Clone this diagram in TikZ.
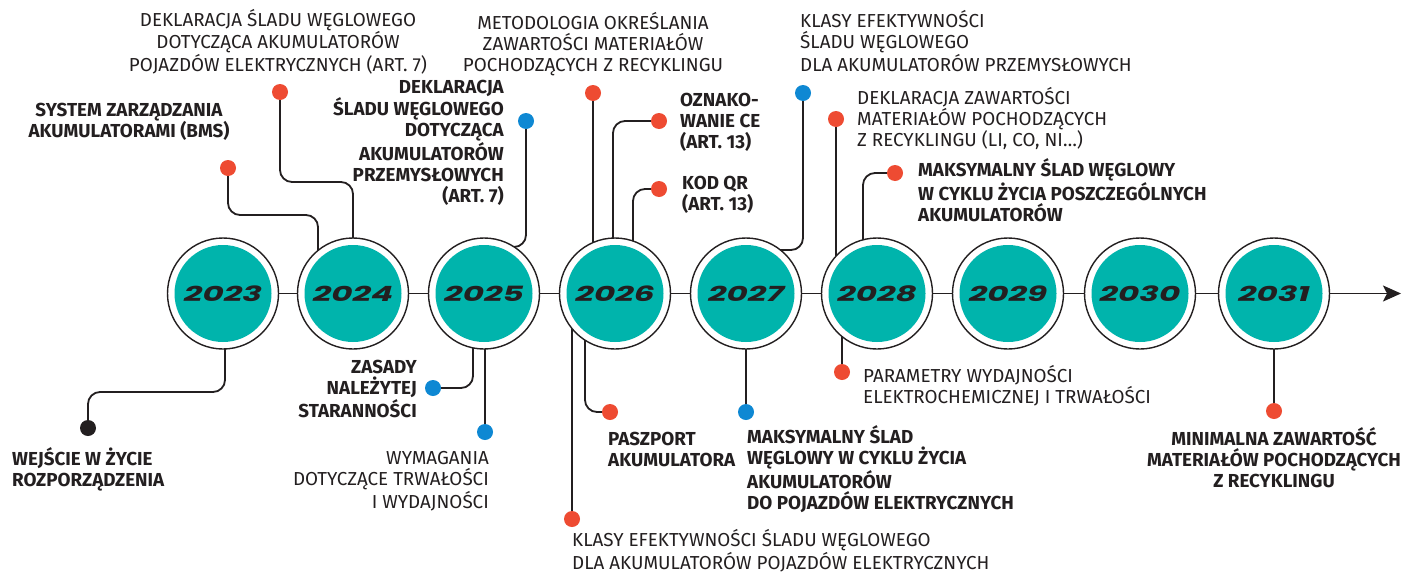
\documentclass[tikz,border=0pt]{standalone}
\usepackage{fontspec}
\usepackage{graphicx}
\setmainfont{Fira Sans}
\newfontfamily\yearfont{Poppins}
\usetikzlibrary{arrows.meta,calc}
\definecolor{tealc}{HTML}{00B4AC}
\definecolor{redc}{HTML}{EE4B32}
\definecolor{bluec}{HTML}{0E88D3}
\definecolor{ink}{HTML}{231F20}
\pgfdeclarelayer{paper}
\pgfdeclarelayer{bg}
\pgfsetlayers{paper,bg,main}
\tikzset{
  yr/.style={circle, draw=ink, line width=1.4pt, fill=white, minimum size=111pt, inner sep=0pt,
    path picture={\fill[tealc] (path picture bounding box.center) circle[radius=48.5pt];},
    font=\yearfont\bfseries\itshape\fontsize{21}{21}\selectfont, text=ink},
  bullet/.style={circle, fill=#1, minimum size=16pt, inner sep=0pt},
  lbl/.style={inner sep=0pt, text=ink, font=\fontsize{18.8}{21}\selectfont},
  blbl/.style={inner sep=0pt, text=ink, font=\bfseries\fontsize{18.8}{21}\selectfont},
  conn/.style={draw=ink, line width=1.8pt, rounded corners=12pt},
  axis/.style={draw=ink, line width=1.5pt},
}
\newcommand{\yr}[1]{\scalebox{1.55}[1]{#1}}
\begin{document}
\begin{tikzpicture}[x=1pt,y=-1pt]
\begin{pgfonlayer}{paper}
\fill[white] (0,0) rectangle (1402,573);
\end{pgfonlayer}
\useasboundingbox (0,0) rectangle (1402,573);

% year circles
\node[yr] (c2023) at (223,293.5) {\yr{2023}};
\node[yr] (c2024) at (353,293.5) {\yr{2024}};
\node[yr] (c2025) at (484,293.5) {\yr{2025}};
\node[yr] (c2026) at (615,293.5) {\yr{2026}};
\node[yr] (c2027) at (746,293.5) {\yr{2027}};
\node[yr] (c2028) at (877,293.5) {\yr{2028}};
\node[yr] (c2029) at (1008,293.5) {\yr{2029}};
\node[yr] (c2030) at (1140,293.5) {\yr{2030}};
\node[yr] (c2031) at (1274,293.5) {\yr{2031}};
\coordinate (arrowtip) at (1401,293.5);

% bullets
\node[bullet=ink]   (b0)  at (88,428) {};
\node[bullet=redc]  (b1)  at (228,168) {};
\node[bullet=redc]  (b2)  at (280,92) {};
\node[bullet=bluec] (b3)  at (526,121) {};
\node[bullet=bluec] (b4)  at (433,388) {};
\node[bullet=bluec] (b5)  at (485,432) {};
\node[bullet=redc]  (b6)  at (593,93) {};
\node[bullet=redc]  (b7)  at (659,121) {};
\node[bullet=redc]  (b8)  at (659,189) {};
\node[bullet=redc]  (b9)  at (572,519) {};
\node[bullet=redc]  (b10) at (610,412) {};
\node[bullet=bluec] (b11) at (803,93) {};
\node[bullet=bluec] (b12) at (746,412) {};
\node[bullet=redc]  (b13) at (836,119) {};
\node[bullet=redc]  (b14) at (895,173) {};
\node[bullet=redc]  (b15) at (842,372) {};
\node[bullet=redc]  (b16) at (1274,411) {};

% labels (anchored at the baseline of their last line)
\node[blbl, align=left, anchor=base west] (tA) at (12,486) {WEJŚCIE W ŻYCIE\\ROZPORZĄDZENIA};
\node[blbl, align=center, anchor=base] (tB) at (129,137) {SYSTEM ZARZĄDZANIA\\AKUMULATORAMI (BMS)};
\node[lbl, align=center, anchor=base] (tC) at (278,71) {DEKLARACJA ŚLADU WĘGLOWEGO\\DOTYCZĄCA AKUMULATORÓW\\POJAZDÓW ELEKTRYCZNYCH (ART. 7)};
\node[blbl, align=right, anchor=base east] (tD) at (504,202) {DEKLARACJA\\ŚLADU WĘGLOWEGO\\DOTYCZĄCA\\AKUMULATORÓW\\PRZEMYSŁOWYCH\\(ART. 7)};
\node[blbl, align=right, anchor=base east] (tE) at (417,417) {ZASADY\\NALEŻYTEJ\\STARANNOŚCI};
\node[lbl, align=right, anchor=base east] (tF) at (489,508) {WYMAGANIA\\DOTYCZĄCE TRWAŁOŚCI\\I WYDAJNOŚCI};
\node[lbl, align=center, anchor=base] (tG) at (593,71) {METODOLOGIA OKREŚLANIA\\ZAWARTOŚCI MATERIAŁÓW\\POCHODZĄCYCH Z RECYKLINGU};
\node[blbl, align=left, anchor=base west] (tH) at (680,148) {OZNAKO-\\WANIE CE\\(ART. 13)};
\node[blbl, align=left, anchor=base west] (tI) at (682,210) {KOD QR\\(ART. 13)};
\node[lbl, align=left, anchor=base west] (tJ) at (572,569) {KLASY EFEKTYWNOŚCI ŚLADU WĘGLOWEGO\\DLA AKUMULATORÓW POJAZDÓW ELEKTRYCZNYCH};
\node[blbl, align=left, anchor=base west] (tK) at (608,466) {PASZPORT\\AKUMULATORA};
\node[blbl, align=left, anchor=base west] (tL) at (747,509) {MAKSYMALNY ŚLAD\\WĘGLOWY W CYKLU ŻYCIA\\AKUMULATORÓW\\DO POJAZDÓW ELEKTRYCZNYCH};
\node[lbl, align=left, anchor=base west] (tM) at (800,71) {KLASY EFEKTYWNOŚCI\\ŚLADU WĘGLOWEGO\\DLA AKUMULATORÓW PRZEMYSŁOWYCH};
\node[lbl, align=left, anchor=base west] (tN) at (857,146) {DEKLARACJA ZAWARTOŚCI\\MATERIAŁÓW POCHODZĄCYCH\\Z RECYKLINGU (LI, CO, NI…)};
\node[blbl, align=left, anchor=base west] (tO) at (918,221) {MAKSYMALNY ŚLAD WĘGLOWY\\W CYKLU ŻYCIA POSZCZEGÓLNYCH\\AKUMULATORÓW};
\node[lbl, align=left, anchor=base west] (tP) at (863,403) {PARAMETRY WYDAJNOŚCI\\ELEKTROCHEMICZNEJ I TRWAŁOŚCI};
\node[blbl, align=center, anchor=base] (tQ) at (1274,487) {MINIMALNA ZAWARTOŚĆ\\MATERIAŁÓW POCHODZĄCYCH\\Z RECYKLINGU};

\begin{pgfonlayer}{bg}
\draw[axis] (c2023) -- (c2031);
\draw[axis, -{Stealth[length=18pt,width=16pt,inset=4pt]}] (c2031.east) -- (arrowtip);
\draw[conn] (b0) |- (225,392) -- (225,392 |- c2023);
\draw[conn] (b1) |- (318,215) -- (318,215 |- c2024);
\draw[conn] (b2) |- (353,182) -- (353,182 |- c2024);
\draw[conn] (b3) |- (484,247 -| c2025);
\draw[conn] (b4) -| (473,380 |- c2025);
\draw[conn] (b5) -- (b5 |- c2025);
\draw[conn] (b6) -- (b6 |- c2026);
\draw[conn] (b7) -| (613,121 |- c2026);
\draw[conn] (b8) -| (633,189 |- c2026);
\draw[conn] (b9) -- (b9 |- c2026);
\draw[conn] (b10) -| (585,412 |- c2026);
\draw[conn] (b11) |- (746,250 -| c2027);
\draw[conn] (b12) -- (b12 |- c2027);
\draw[conn] (b13) -- (b13 |- c2028);
\draw[conn] (b14) -| (863,173 |- c2028);
\draw[conn] (b15) -- (b15 |- c2028);
\draw[conn] (b16) -- (b16 |- c2031);
\end{pgfonlayer}
\end{tikzpicture}
\end{document}
